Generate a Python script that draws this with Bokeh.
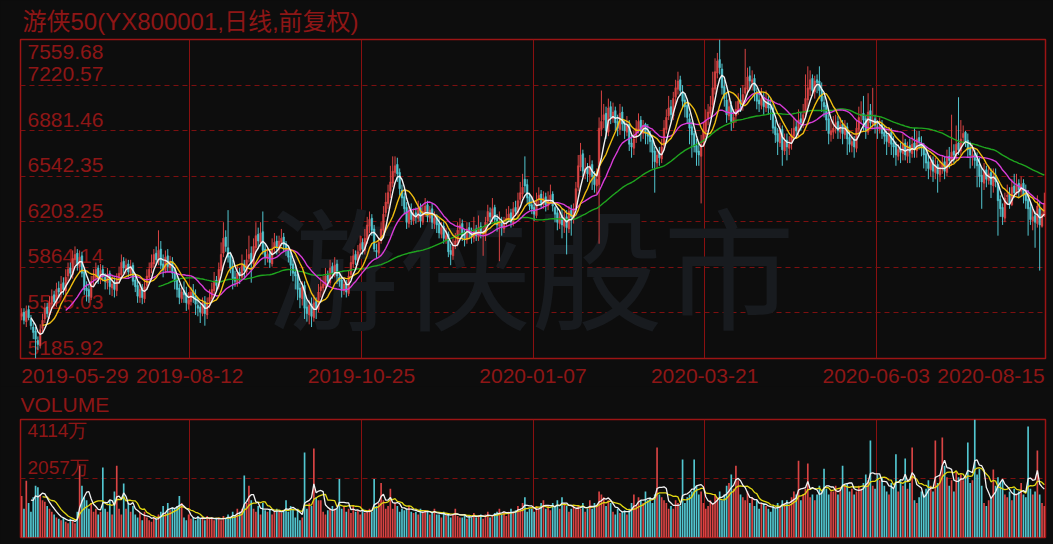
from bokeh.plotting import figure
from bokeh.layouts import column
from bokeh.models import Range1d, FixedTicker, ColumnDataSource
from bokeh.embed import file_html
from bokeh.resources import INLINE
from bokeh.core.properties import value

TITLE = "游侠50(YX800001,日线,前复权)"
VOLUME_TITLE = "VOLUME"
WATERMARK = "游侠股市"

price_ticks = [5185.92, 5525.03, 5864.14, 6203.25, 6542.35, 6881.46, 7220.57, 7559.68]
price_tick_labels = ["5185.92", "5525.03", "5864.14", "6203.25", "6542.35", "6881.46", "7220.57", "7559.68"]
vol_ticks = [2057, 4114]
vol_tick_labels = ["2057万", "4114万"]
date_labels = ["2019-05-29", "2019-08-12", "2019-10-25", "2020-01-07", "2020-03-21", "2020-06-03", "2020-08-15"]

opens = [
    5500, 5530, 5460, 5550, 5480, 5420, 5390, 5320, 5280, 5410,
    5480, 5570, 5510, 5590, 5660, 5600, 5710, 5670, 5750, 5690,
    5800, 5860, 5810, 5920, 5970, 5870, 5950, 5830, 5710, 5700,
    5640, 5770, 5790, 5860, 5770, 5850, 5790, 5750, 5820, 5710,
    5750, 5690, 5780, 5810, 5910, 5850, 5890, 5820, 5880, 5770,
    5730, 5640, 5710, 5630, 5730, 5790, 5860, 5890, 5970, 5910,
    6000, 5890, 5840, 5950, 5860, 5910, 5830, 5770, 5710, 5630,
    5690, 5670, 5590, 5610, 5690, 5650, 5580, 5570, 5520, 5610,
    5510, 5610, 5630, 5690, 5770, 5720, 5840, 5970, 6090, 6010,
    5950, 5870, 5790, 5750, 5830, 5790, 5890, 5830, 5930, 5970,
    5890, 6010, 6110, 6050, 6130, 6000, 5930, 5970, 5890, 6010,
    6060, 6000, 6050, 6090, 6040, 5990, 5950, 5890, 5830, 5810,
    5710, 5630, 5730, 5570, 5510, 5590, 5490, 5610, 5550, 5690,
    5710, 5730, 5810, 5750, 5870, 5810, 5890, 5790, 5770, 5690,
    5750, 5670, 5810, 5890, 5960, 5910, 5990, 6050, 5990, 6070,
    6170, 6230, 6150, 5990, 5970, 6060, 6140, 6270, 6340, 6430,
    6490, 6570, 6630, 6570, 6440, 6390, 6310, 6190, 6290, 6210,
    6270, 6230, 6310, 6200, 6270, 6330, 6230, 6300, 6190, 6240,
    6190, 6110, 6170, 6070, 6110, 5990, 5950, 6030, 6050, 6150,
    6190, 6110, 6070, 6160, 6110, 6080, 6150, 6090, 6170, 6110,
    6100, 6210, 6270, 6230, 6310, 6230, 6170, 6210, 6150, 6200,
    6220, 6270, 6190, 6310, 6270, 6370, 6410, 6520, 6480, 6390,
    6330, 6310, 6250, 6370, 6410, 6330, 6390, 6320, 6370, 6410,
    6310, 6270, 6190, 6250, 6170, 6240, 6150, 6290, 6230, 6310,
    6460, 6610, 6710, 6570, 6610, 6550, 6630, 6550, 6470, 6480,
    6890, 6960, 7010, 6870, 7060, 6970, 7030, 6950, 6890, 7020,
    6940, 6870, 6930, 6790, 6750, 6830, 6890, 6960, 6860, 6930,
    6870, 6850, 6810, 6730, 6640, 6710, 6670, 6770, 6890, 6990,
    7060, 6990, 7130, 7190, 7260, 7170, 7110, 7070, 6970, 6910,
    6860, 6770, 6730, 6690, 6790, 6870, 6970, 7010, 7070, 7190,
    7310, 7410, 7340, 7210, 7110, 6990, 7070, 6940, 6990, 7030,
    7110, 7070, 7160, 7190, 7290, 7240, 7270, 7170, 7110, 7070,
    7130, 7050, 7110, 7060, 7050, 6910, 6860, 6790, 6890, 6730,
    6810, 6750, 6790, 6840, 6910, 6870, 6970, 6930, 7010, 7110,
    7190, 7270, 7170, 7260, 7250, 7190, 7090, 7070, 6970, 6850,
    6870, 6910, 6950, 6870, 6930, 6850, 6910, 6830, 6770, 6810,
    6750, 6890, 6990, 7010, 6970, 6870, 7030, 6930, 6970, 6910,
    6890, 6930, 6870, 6850, 6790, 6870, 6790, 6770, 6690, 6750,
    6710, 6790, 6690, 6770, 6710, 6790, 6730, 6830, 6790, 6770,
    6710, 6650, 6590, 6660, 6570, 6630, 6550, 6610, 6650, 6570,
    6690, 6650, 6730, 6690, 6790, 6730, 6830, 6870, 6810, 6750,
    6690, 6710, 6670, 6630, 6550, 6490, 6590, 6510, 6570, 6470,
    6550, 6490, 6370, 6310, 6230, 6390, 6410, 6330, 6470, 6410,
    6490, 6430, 6490, 6410, 6370, 6310, 6210, 6250, 6190, 6300, 6170, 6250,
]
highs = [
    5560, 5560, 5580, 5580, 5510, 5450, 5420, 5350, 5440, 5520,
    5600, 5600, 5650, 5700, 5690, 5750, 5760, 5800, 5790, 5850,
    5900, 5900, 5990, 6020, 6000, 5990, 5980, 5860, 5760, 5740,
    5800, 5850, 5900, 5880, 5890, 5880, 5820, 5860, 5840, 5800,
    5790, 5820, 5870, 5960, 5940, 5930, 5920, 5920, 5900, 5800,
    5760, 5760, 5740, 5780, 5850, 5900, 5960, 6000, 6020, 6140,
    6060, 5960, 5990, 6000, 5950, 5940, 5860, 5800, 5740, 5720,
    5760, 5720, 5680, 5720, 5740, 5700, 5640, 5600, 5640, 5650,
    5640, 5700, 5750, 5830, 5800, 5900, 6050, 6200, 6140, 6290,
    5980, 5920, 5840, 5880, 5860, 5960, 5920, 6000, 6100, 6020,
    6080, 6200, 6160, 6200, 6280, 6040, 6010, 6000, 6080, 6120,
    6100, 6100, 6150, 6120, 6060, 6020, 5980, 5920, 5880, 5840,
    5750, 5760, 5760, 5620, 5620, 5640, 5660, 5640, 5740, 5790,
    5800, 5860, 5840, 5920, 5900, 5940, 5920, 5820, 5800, 5790,
    5770, 5840, 5950, 6000, 5990, 6030, 6100, 6080, 6150, 6240,
    6280, 6260, 6180, 6040, 6090, 6200, 6320, 6420, 6480, 6620,
    6690, 6690, 6680, 6600, 6480, 6420, 6350, 6320, 6340, 6300,
    6310, 6360, 6340, 6330, 6380, 6360, 6320, 6340, 6280, 6260,
    6230, 6200, 6200, 6160, 6130, 6040, 6080, 6120, 6200, 6230,
    6220, 6150, 6200, 6200, 6160, 6240, 6180, 6250, 6200, 6160,
    6240, 6330, 6310, 6380, 6330, 6260, 6280, 6240, 6240, 6300,
    6320, 6300, 6350, 6360, 6420, 6500, 6560, 6690, 6520, 6420,
    6390, 6340, 6420, 6460, 6440, 6430, 6420, 6430, 6480, 6430,
    6320, 6310, 6290, 6300, 6280, 6290, 6320, 6330, 6340, 6500,
    6700, 6790, 6740, 6680, 6640, 6700, 6660, 6580, 6600, 6980,
    7180, 7080, 7060, 7120, 7100, 7090, 7060, 7000, 7080, 7060,
    6960, 6990, 6960, 6850, 6880, 6960, 7010, 6990, 6960, 6940,
    6930, 6880, 6850, 6760, 6740, 6760, 6820, 6960, 7040, 7140,
    7110, 7170, 7260, 7320, 7290, 7220, 7160, 7100, 7010, 6950,
    6880, 6820, 6800, 6850, 6940, 7040, 7080, 7140, 7320, 7420,
    7460, 7559, 7380, 7260, 7160, 7120, 7100, 7040, 7100, 7160,
    7200, 7220, 7490, 7350, 7360, 7330, 7300, 7200, 7160, 7200,
    7170, 7180, 7150, 7120, 7080, 6960, 6900, 6940, 6920, 6860,
    6860, 6840, 6900, 6980, 6960, 7040, 7020, 7080, 7300, 7360,
    7330, 7300, 7290, 7300, 7360, 7240, 7140, 7100, 7020, 6960,
    6990, 7000, 6990, 6980, 6960, 6960, 6940, 6880, 6860, 6840,
    6960, 7060, 7100, 7140, 7000, 7160, 7080, 7200, 7000, 6960,
    6980, 6960, 6920, 6880, 6900, 6900, 6840, 6800, 6780, 6790,
    6860, 6820, 6800, 6820, 6840, 6900, 6880, 6880, 6840, 6790,
    6760, 6700, 6700, 6690, 6680, 6660, 6660, 6700, 6690, 6740,
    6760, 7000, 6780, 6920, 7130, 6960, 6920, 6880, 6860, 6800,
    6780, 6740, 6720, 6680, 6600, 6640, 6620, 6620, 6600, 6600,
    6600, 6520, 6400, 6340, 6420, 6480, 6460, 6520, 6560, 6560,
    6520, 6540, 6520, 6480, 6440, 6360, 6300, 6280, 6400, 6360, 6300, 6420,
]
lows = [
    5470, 5440, 5420, 5470, 5400, 5330, 5186, 5250, 5260, 5380,
    5450, 5490, 5480, 5560, 5580, 5570, 5640, 5640, 5660, 5660,
    5760, 5780, 5780, 5880, 5840, 5830, 5790, 5660, 5610, 5600,
    5620, 5720, 5760, 5740, 5740, 5760, 5700, 5700, 5660, 5650,
    5640, 5650, 5740, 5780, 5820, 5810, 5790, 5800, 5730, 5680,
    5600, 5600, 5590, 5600, 5700, 5760, 5820, 5860, 5880, 5880,
    5850, 5790, 5820, 5830, 5830, 5780, 5700, 5640, 5590, 5600,
    5600, 5540, 5550, 5580, 5600, 5510, 5500, 5450, 5500, 5430,
    5480, 5560, 5600, 5650, 5680, 5700, 5800, 5940, 5980, 5900,
    5820, 5700, 5720, 5720, 5740, 5770, 5770, 5810, 5900, 5750,
    5860, 5980, 6000, 6020, 5960, 5880, 5900, 5860, 5870, 5980,
    5960, 5970, 6020, 5980, 5950, 5900, 5800, 5760, 5700, 5620,
    5560, 5580, 5480, 5460, 5440, 5420, 5460, 5480, 5530, 5640,
    5660, 5700, 5720, 5730, 5780, 5790, 5740, 5720, 5640, 5660,
    5640, 5650, 5780, 5860, 5880, 5880, 5960, 5960, 5960, 6040,
    6120, 6100, 5980, 5930, 5950, 6040, 6110, 6240, 6300, 6380,
    6460, 6540, 6500, 6400, 6320, 6260, 6150, 6160, 6180, 6180,
    6190, 6200, 6160, 6180, 6240, 6200, 6200, 6150, 6150, 6120,
    6080, 6080, 6040, 6040, 5940, 5880, 5920, 6000, 6020, 6110,
    6060, 6020, 6040, 6080, 6040, 6050, 6060, 6060, 6080, 5950,
    6060, 6160, 6200, 6200, 6180, 6130, 5910, 6100, 6120, 6170,
    6200, 6160, 6170, 6250, 6240, 6340, 6380, 6420, 6340, 6290,
    6260, 6210, 6230, 6330, 6300, 6300, 6280, 6290, 6350, 6280,
    6200, 6140, 6150, 6080, 6120, 5960, 6120, 6100, 6190, 6290,
    6430, 6580, 6540, 6520, 6500, 6500, 6440, 6420, 6410, 6040,
    6840, 6900, 6820, 6840, 6930, 6940, 6880, 6840, 6850, 6880,
    6820, 6840, 6730, 6680, 6700, 6790, 6860, 6800, 6820, 6780,
    6780, 6720, 6600, 6420, 6600, 6620, 6640, 6740, 6860, 6960,
    6950, 6960, 7080, 7150, 7140, 7050, 6980, 6930, 6780, 6680,
    6720, 6620, 6620, 6340, 6760, 6830, 6920, 6980, 7020, 7150,
    7270, 7300, 7150, 7060, 6940, 6960, 6880, 6900, 6940, 7000,
    7020, 7030, 7120, 7150, 7180, 7180, 7100, 7040, 7020, 7040,
    7000, 7020, 7000, 6960, 6860, 6790, 6700, 6760, 6620, 6700,
    6660, 6700, 6740, 6820, 6820, 6840, 6880, 6900, 6980, 7060,
    7140, 7140, 7120, 7160, 7120, 7020, 6980, 6880, 6780, 6800,
    6820, 6860, 6820, 6820, 6780, 6820, 6700, 6720, 6720, 6680,
    6720, 6860, 6940, 6880, 6820, 6850, 6900, 6900, 6860, 6820,
    6860, 6820, 6780, 6700, 6760, 6700, 6680, 6620, 6660, 6640,
    6660, 6660, 6640, 6640, 6680, 6680, 6680, 6740, 6690, 6600,
    6580, 6520, 6540, 6500, 6520, 6420, 6500, 6560, 6520, 6540,
    6600, 6620, 6640, 6660, 6700, 6700, 6780, 6760, 6680, 6600,
    6620, 6600, 6460, 6460, 6300, 6440, 6460, 6480, 6380, 6420,
    6460, 6100, 6240, 6180, 6200, 6330, 6300, 6320, 6380, 6400,
    6380, 6400, 6340, 6300, 6100, 6180, 6140, 6010, 6160, 5840, 6160, 6240,
]
closes = [
    5520, 5470, 5540, 5490, 5430, 5380, 5330, 5290, 5400, 5470,
    5560, 5520, 5600, 5650, 5610, 5700, 5680, 5740, 5700, 5790,
    5850, 5820, 5930, 5960, 5880, 5940, 5820, 5700, 5690, 5650,
    5760, 5800, 5850, 5780, 5840, 5800, 5760, 5810, 5720, 5740,
    5700, 5770, 5820, 5900, 5860, 5880, 5830, 5870, 5760, 5720,
    5650, 5700, 5640, 5720, 5800, 5850, 5900, 5960, 5920, 5990,
    5880, 5850, 5940, 5870, 5900, 5820, 5760, 5700, 5640, 5680,
    5660, 5600, 5620, 5680, 5640, 5590, 5560, 5530, 5600, 5520,
    5600, 5640, 5700, 5760, 5730, 5850, 5960, 6080, 6020, 5940,
    5860, 5780, 5760, 5820, 5800, 5880, 5840, 5920, 5960, 5900,
    6020, 6100, 6060, 6120, 5990, 5940, 5960, 5900, 6000, 6050,
    6010, 6060, 6080, 6030, 6000, 5940, 5880, 5820, 5800, 5700,
    5640, 5720, 5560, 5520, 5580, 5500, 5600, 5560, 5680, 5720,
    5740, 5800, 5760, 5860, 5820, 5880, 5800, 5760, 5700, 5740,
    5680, 5800, 5900, 5950, 5920, 5980, 6040, 6000, 6080, 6180,
    6220, 6140, 6000, 5980, 6050, 6150, 6260, 6350, 6420, 6500,
    6580, 6620, 6560, 6450, 6380, 6300, 6200, 6280, 6220, 6260,
    6240, 6300, 6210, 6280, 6320, 6240, 6290, 6200, 6230, 6180,
    6120, 6160, 6080, 6100, 5980, 5960, 6020, 6060, 6140, 6180,
    6100, 6080, 6150, 6120, 6090, 6140, 6100, 6160, 6120, 6110,
    6200, 6280, 6240, 6300, 6220, 6180, 6200, 6160, 6190, 6230,
    6260, 6200, 6300, 6280, 6360, 6420, 6460, 6470, 6380, 6320,
    6300, 6260, 6360, 6400, 6340, 6380, 6330, 6360, 6400, 6320,
    6260, 6200, 6240, 6180, 6230, 6160, 6280, 6240, 6300, 6450,
    6620, 6700, 6580, 6600, 6560, 6620, 6540, 6480, 6520, 6900,
    6950, 7000, 6880, 7050, 6980, 7020, 6940, 6900, 7010, 6930,
    6880, 6920, 6780, 6760, 6820, 6900, 6950, 6870, 6920, 6860,
    6840, 6800, 6720, 6650, 6700, 6680, 6760, 6900, 6980, 7050,
    7000, 7120, 7200, 7250, 7180, 7100, 7060, 6980, 6900, 6850,
    6760, 6720, 6700, 6780, 6880, 6960, 7020, 7060, 7200, 7320,
    7400, 7350, 7200, 7120, 7000, 7060, 6950, 6980, 7040, 7100,
    7080, 7150, 7200, 7280, 7250, 7260, 7180, 7100, 7080, 7120,
    7060, 7100, 7050, 7040, 6900, 6850, 6800, 6880, 6740, 6800,
    6760, 6780, 6850, 6900, 6880, 6960, 6940, 7000, 7120, 7200,
    7260, 7180, 7250, 7240, 7180, 7100, 7060, 6960, 6860, 6880,
    6900, 6940, 6880, 6920, 6860, 6900, 6820, 6780, 6800, 6760,
    6900, 6980, 7000, 6960, 6880, 7020, 6940, 6960, 6920, 6900,
    6920, 6860, 6840, 6800, 6860, 6780, 6760, 6700, 6740, 6720,
    6780, 6700, 6760, 6720, 6780, 6740, 6820, 6800, 6760, 6700,
    6640, 6600, 6650, 6580, 6620, 6560, 6600, 6640, 6580, 6680,
    6660, 6720, 6700, 6780, 6740, 6820, 6860, 6800, 6740, 6700,
    6700, 6660, 6620, 6540, 6500, 6580, 6520, 6560, 6480, 6540,
    6500, 6360, 6300, 6240, 6380, 6400, 6340, 6460, 6420, 6480,
    6440, 6480, 6400, 6360, 6300, 6220, 6240, 6200, 6320, 6180, 6260, 6340,
]
volumes = [
    1450, 1000, 1980, 1200, 900, 1400, 1800, 1750, 1500, 1300,
    1250, 1100, 1000, 900, 800, 700, 650, 600, 700, 550,
    500, 650, 600, 500, 900, 2500, 1800, 1400, 1300, 1000,
    1200, 900, 1000, 800, 900, 2440, 1000, 900, 1300, 800,
    1600, 2500, 1000, 800, 1880, 1000, 1200, 900, 1100, 800,
    700, 850, 600, 900, 700, 600, 550, 700, 650, 800,
    900, 1100, 850, 1200, 950, 1050, 1000, 1100, 1450, 1200,
    700, 600, 800, 650, 700, 600, 750, 650, 700, 600,
    750, 650, 700, 600, 650, 700, 600, 750, 650, 800,
    700, 900, 750, 1000, 900, 1000, 2160, 1200, 1800, 1300,
    1000, 900, 1100, 800, 1200, 950, 900, 1000, 800, 900,
    1000, 900, 850, 950, 1300, 900, 1100, 1000, 700, 1000,
    600, 700, 2960, 1000, 1200, 1100, 3100, 1400, 1300, 1300,
    900, 800, 950, 1000, 1100, 1000, 1000, 2040, 1000, 1100,
    900, 1000, 850, 1100, 900, 950, 800, 1000, 850, 900,
    1000, 900, 2040, 1100, 1200, 1900, 1300, 1000, 1100, 1700,
    1000, 1200, 1100, 900, 1000, 950, 1000, 1100, 900, 850,
    900, 800, 1000, 850, 950, 900, 800, 850, 1000, 800,
    800, 700, 900, 750, 850, 700, 800, 1000, 750, 700,
    700, 800, 650, 750, 700, 850, 700, 750, 800, 650,
    800, 900, 700, 750, 850, 900, 1000, 800, 900, 750,
    900, 1000, 850, 950, 1100, 1000, 1200, 1400, 900, 1000,
    1000, 900, 1100, 1000, 1200, 1300, 1000, 1100, 950, 1200,
    1100, 1300, 1000, 1400, 1200, 1100, 900, 1000, 1100, 1000,
    1100, 1000, 1200, 900, 1000, 1300, 1000, 1200, 1100, 1600,
    1500, 1400, 1100, 1300, 1200, 900, 800, 1000, 850, 900,
    950, 800, 1000, 1200, 1500, 1100, 1400, 1300, 1200, 1600,
    1300, 1400, 1200, 1500, 3140, 1500, 1400, 1300, 1200, 1000,
    1100, 1000, 1300, 1200, 1100, 2720, 1200, 1400, 1500, 1600,
    2720, 1800, 1500, 1600, 1200, 1000, 1100, 1300, 1200, 1500,
    1400, 1600, 1300, 1500, 1800, 1900, 2200, 1700, 2500, 2000,
    1500, 1400, 1300, 1600, 1200, 1400, 1100, 1300, 1000, 1200,
    1200, 1100, 1000, 900, 1100, 1000, 1200, 1100, 1300, 1200,
    1300, 1100, 1400, 1600, 1500, 2680, 1300, 1500, 1700, 2580,
    1400, 1500, 1300, 1500, 1800, 1600, 2400, 1700, 1500, 1600,
    1600, 1800, 1500, 1700, 2500, 1800, 1900, 1600, 1700, 1500,
    1600, 1800, 1700, 1900, 2200, 2000, 3380, 1800, 1700, 2200,
    2000, 2100, 1800, 1600, 1500, 1900, 1700, 2900, 1600, 2000,
    1800, 2750, 1700, 1900, 3140, 1300, 1200, 1400, 1600, 1500,
    1700, 2000, 1800, 1600, 3380, 1900, 2200, 3490, 2500, 2100,
    1800, 2000, 1600, 2300, 2100, 2200, 2000, 2100, 3310, 1900,
    2000, 4110, 2200, 2400, 1800, 1200, 1100, 1300, 1400, 2370,
    1800, 2100, 1900, 2000, 1500, 1400, 1600, 1300, 1700, 1500,
    1600, 1900, 1500, 1400, 3870, 1700, 1500, 1600, 3030, 1500, 1200, 1100,
]

# ---- styling ----
BG = "#0d0d0d"
TXT = "#8e1616"
FRAME = "#9c1414"
GRID_V = "#8a1010"
GRID_H = "#7c1010"
UP = "#d94444"
DOWN = "#52c6d0"
FONT = "Liberation Sans"

n = len(closes)
idx = list(range(n))
colors = [UP if c >= o else DOWN for o, c in zip(opens, closes)]
grid_x = [72.5, 146.5, 220.5, 294.5, 368.5]
label_x = [23, 72.5, 146.5, 220.5, 294.5, 368.5, 418]


def moving_avg(vals, k):
    xs, ys = [], []
    for i in range(k - 1, len(vals)):
        xs.append(i)
        ys.append(sum(vals[i - k + 1:i + 1]) / k)
    return xs, ys


src = ColumnDataSource(dict(x=idx, o=opens, h=highs, l=lows, c=closes,
                            top=[max(a, b) for a, b in zip(opens, closes)],
                            bot=[min(a, b) for a, b in zip(opens, closes)],
                            v=volumes, col=colors))

xr = Range1d(-0.5, n - 0.5)

p = figure(width=1052, height=386, x_range=xr,
           y_range=Range1d(price_ticks[0], price_ticks[-1]),
           output_backend="svg", toolbar_location=None, y_axis_location=None,
           min_border_left=20, min_border_right=7, min_border_top=38, min_border_bottom=28,
           background_fill_color=BG, border_fill_color=BG,
           outline_line_color=FRAME, outline_line_width=1.5, title=TITLE)
p.title.text_font = "Liberation Sans, Noto Sans CJK SC"
p.title.text_font_size = "24px"
p.title.text_font_style = "normal"
p.title.text_color = TXT
p.title.align = "left"
p.title.offset = 2
p.title.standoff = 10

p.xaxis.ticker = FixedTicker(ticks=label_x)
p.xaxis.major_label_overrides = {k: v for k, v in zip(label_x, date_labels)}
p.xaxis.axis_line_color = None
p.xaxis.major_tick_line_color = None
p.xaxis.minor_tick_line_color = None
p.xaxis.major_label_text_color = TXT
p.xaxis.major_label_text_font = FONT
p.xaxis.major_label_text_font_size = "21px"
p.xaxis.major_label_standoff = 4

p.xgrid.ticker = FixedTicker(ticks=grid_x)
p.xgrid.grid_line_color = GRID_V
p.xgrid.grid_line_width = 1
p.ygrid.ticker = FixedTicker(ticks=price_ticks[1:-1])
p.ygrid.grid_line_color = GRID_H
p.ygrid.grid_line_dash = "5 4"
p.ygrid.grid_line_width = 1

# watermark
p.text(x=[219.6], y=[5900], text=[WATERMARK], text_font=value("Noto Sans CJK SC"),
       text_font_size="132px", text_color="#181b1f", text_align="center", text_baseline="middle")

# in-plot price labels (drawn under the candles)
p.text(x=[-0.5] * 7, y=price_ticks[:-1], text=price_tick_labels[:-1], x_offset=7, y_offset=-11,
       text_font=value(FONT), text_font_size="21px", text_color=TXT,
       text_align="left", text_baseline="middle")
p.text(x=[-0.5], y=[price_ticks[-1]], text=[price_tick_labels[-1]], x_offset=7, y_offset=12,
       text_font=value(FONT), text_font_size="21px", text_color=TXT,
       text_align="left", text_baseline="middle")

# candles
p.segment(x0="x", y0="l", x1="x", y1="h", color="col", line_width=1, source=src)
p.vbar(x="x", top="top", bottom="bot", width=0.7, fill_color="col", line_color="col",
       line_width=0.5, source=src)

for k, colr in [(60, "#1fa51f"), (20, "#d93cd9"), (10, "#f0be10"), (5, "#f2f2f2")]:
    mx, my = moving_avg(closes, k)
    p.line(mx, my, line_color=colr, line_width=1.4)

# ---- volume panel ----
pv = figure(width=1052, height=157, x_range=xr, y_range=Range1d(0, vol_ticks[-1]),
            output_backend="svg", toolbar_location=None,
            x_axis_location=None, y_axis_location=None,
            min_border_left=20, min_border_right=7, min_border_top=33, min_border_bottom=6,
            background_fill_color=BG, border_fill_color=BG,
            outline_line_color=FRAME, outline_line_width=1.5, title=VOLUME_TITLE)
pv.title.text_font = FONT
pv.title.text_font_size = "21px"
pv.title.text_font_style = "normal"
pv.title.text_color = TXT
pv.title.align = "left"
pv.title.offset = 0
pv.title.standoff = 7

pv.xgrid.ticker = FixedTicker(ticks=grid_x)
pv.xgrid.grid_line_color = GRID_V
pv.ygrid.ticker = FixedTicker(ticks=[vol_ticks[0]])
pv.ygrid.grid_line_color = GRID_H
pv.ygrid.grid_line_dash = "5 4"

pv.text(x=[-0.5], y=[vol_ticks[0]], text=[vol_tick_labels[0]], x_offset=7, y_offset=-11,
        text_font=value(FONT), text_font_size="19px", text_color=TXT,
        text_align="left", text_baseline="middle")
pv.text(x=[-0.5], y=[vol_ticks[1]], text=[vol_tick_labels[1]], x_offset=7, y_offset=11,
        text_font=value(FONT), text_font_size="19px", text_color=TXT,
        text_align="left", text_baseline="middle")

pv.vbar(x="x", top="v", bottom=0, width=0.72, fill_color="col", line_color=None, source=src)
for k, colr in [(10, "#e2d812"), (5, "#f2f2f2")]:
    mx, my = moving_avg(volumes, k)
    pv.line(mx, my, line_color=colr, line_width=1.3)

layout = column(p, pv, spacing=0)
html = file_html(layout, INLINE)
html = html.replace("</head>", "<style>html,body{background:#0d0d0d;}</style></head>", 1)
open("out.html", "w").write(html)
